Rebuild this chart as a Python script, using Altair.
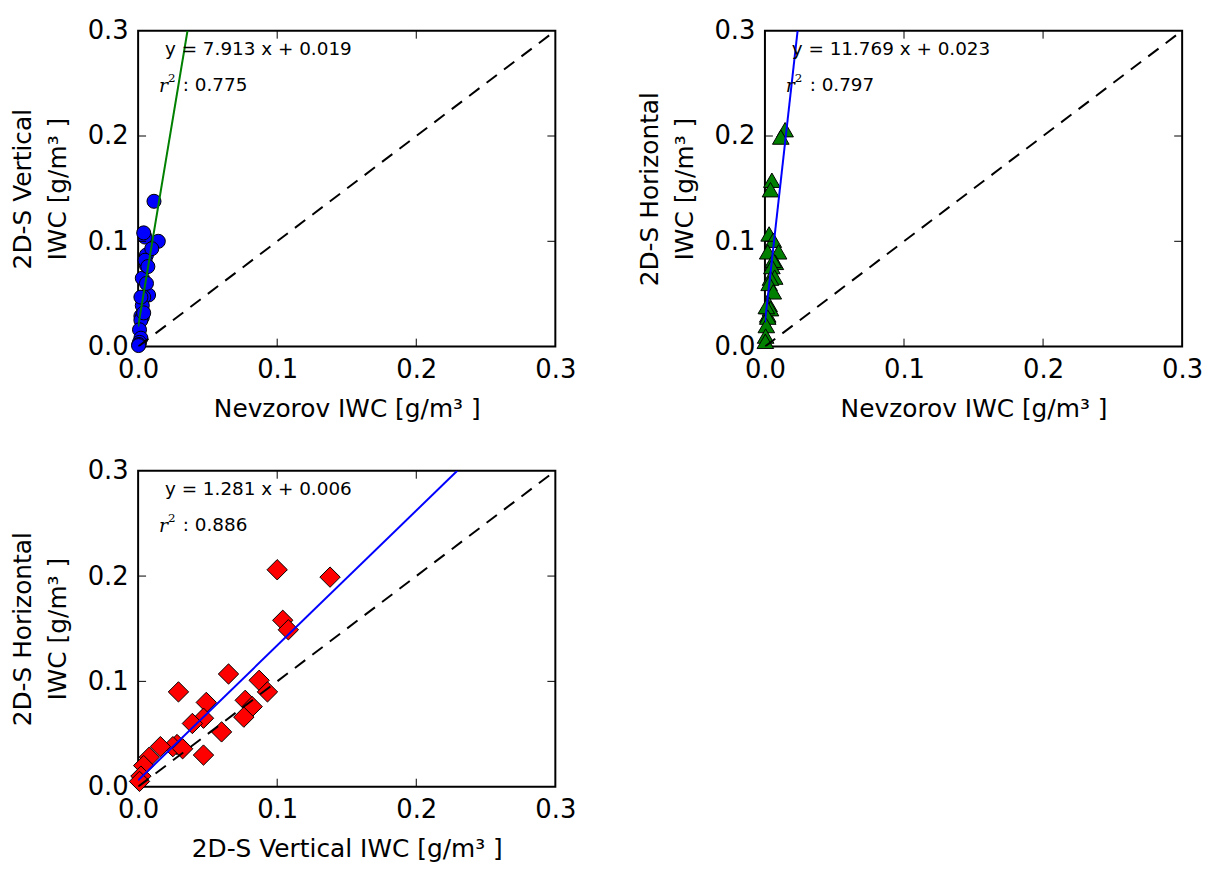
import altair as alt
import pandas as pd

# ---- data ----
nevzorov = [0.0145, 0.0114, 0.005, 0.004, 0.003, 0.006, 0.0098, 0.002, 0.0075, 0.006,
            0.005, 0.007, 0.004, 0.003, 0.006, 0.002, 0.003, 0.002, 0.004, 0.001,
            0.002, 0.001, 0.0005, 0.0003]
vertical = [0.100, 0.138, 0.104, 0.108, 0.065, 0.087, 0.093, 0.029, 0.049, 0.077,
            0.082, 0.076, 0.047, 0.039, 0.060, 0.047, 0.028, 0.025, 0.032, 0.016,
            0.008, 0.004, 0.002, 0.001]
horizontal = [0.206, 0.199, 0.158, 0.149, 0.107, 0.101, 0.090, 0.090, 0.080, 0.082,
              0.076, 0.066, 0.065, 0.060, 0.052, 0.030, 0.040, 0.038, 0.036, 0.038,
              0.028, 0.020, 0.010, 0.005]

one_to_one = [0.0, 0.3]
fit1_x = [0.0, 0.0355]
fit1_y = [0.019, 0.300]
fit2_x = [0.0, 0.0235]
fit2_y = [0.023, 0.300]
fit3_x = [0.0, 0.2295]
fit3_y = [0.006, 0.300]
tick_values = [0.1, 0.2]
axis_ticks = [0.0, 0.1, 0.2, 0.3]

eq_texts = ["y = 7.913 x + 0.019", "y = 11.769 x + 0.023", "y = 1.281 x + 0.006"]
r2_texts = [": 0.775", ": 0.797", ": 0.886"]

W, H = 420, 318
DOM = [0.0, 0.3]

df = pd.DataFrame({"nev": nevzorov, "vert": vertical, "horiz": horizontal})
ticks_df = pd.DataFrame({"v": tick_values})
diag_df = pd.DataFrame({"a": one_to_one, "b": one_to_one})


def panel(xf, yf, xtitle, ytitle, shape, color, size, fx, fy, fcolor, eq, r2):
    def X(field):
        return alt.X(f"{field}:Q", scale=alt.Scale(domain=DOM, nice=False),
                     axis=alt.Axis(title=xtitle, values=axis_ticks, format=".1f"))

    def Y(field):
        return alt.Y(f"{field}:Q", scale=alt.Scale(domain=DOM, nice=False),
                     axis=alt.Axis(title=ytitle, values=axis_ticks, format=".1f"))

    pts = alt.Chart(df).mark_point(
        shape=shape, filled=True, fill=color, stroke="black", strokeWidth=1,
        size=size, opacity=1
    ).encode(x=X(xf), y=Y(yf))

    diag = alt.Chart(diag_df).mark_line(
        color="black", strokeWidth=2, strokeDash=[13, 9], clip=True
    ).encode(x=X("a"), y=Y("b"))

    fit_df = pd.DataFrame({"fx": fx, "fy": fy})
    fit = alt.Chart(fit_df).mark_line(color=fcolor, strokeWidth=2, clip=True).encode(
        x=X("fx"), y=Y("fy"))

    tb = alt.Chart(ticks_df).mark_rule(color="black", strokeWidth=1).encode(
        x=X("v"), y=alt.value(H), y2=alt.value(H - 8))
    tt = alt.Chart(ticks_df).mark_rule(color="black", strokeWidth=1).encode(
        x=X("v"), y=alt.value(0), y2=alt.value(8))
    tl = alt.Chart(ticks_df).mark_rule(color="black", strokeWidth=1).encode(
        y=Y("v"), x=alt.value(0), x2=alt.value(8))
    tr = alt.Chart(ticks_df).mark_rule(color="black", strokeWidth=1).encode(
        y=Y("v"), x=alt.value(W), x2=alt.value(W - 8))

    eq_t = alt.Chart(pd.DataFrame({"t": [eq]})).mark_text(
        align="left", baseline="middle", fontSize=18.5, font="DejaVu Sans", color="black"
    ).encode(text="t:N", x=alt.value(27), y=alt.value(18))

    r_t = alt.Chart(pd.DataFrame({"t": ["r"]})).mark_text(
        align="left", baseline="middle", fontSize=19, font="DejaVu Serif",
        fontStyle="italic", color="black"
    ).encode(text="t:N", x=alt.value(21), y=alt.value(56))
    s_t = alt.Chart(pd.DataFrame({"t": ["2"]})).mark_text(
        align="left", baseline="middle", fontSize=12, font="DejaVu Serif", color="black"
    ).encode(text="t:N", x=alt.value(30), y=alt.value(48))
    r2_t = alt.Chart(pd.DataFrame({"t": [r2]})).mark_text(
        align="left", baseline="middle", fontSize=18.5, font="DejaVu Sans", color="black"
    ).encode(text="t:N", x=alt.value(45), y=alt.value(55))

    return alt.layer(pts, diag, fit, tb, tt, tl, tr, eq_t, r_t, s_t, r2_t).properties(
        width=W, height=H)


p1 = panel("nev", "vert", "Nevzorov IWC [g/m³ ]", ["2D-S Vertical", "IWC  [g/m³ ]"],
           "circle", "#0000ff", 200, fit1_x, fit1_y, "#008000", eq_texts[0], r2_texts[0])
p2 = panel("nev", "horiz", "Nevzorov IWC [g/m³ ]", ["2D-S Horizontal", "IWC  [g/m³ ]"],
           "triangle-up", "#008000", 280, fit2_x, fit2_y, "#0000ff", eq_texts[1], r2_texts[1])
p3 = panel("vert", "horiz", "2D-S Vertical IWC [g/m³ ]", ["2D-S Horizontal", "IWC  [g/m³ ]"],
           "diamond", "#ff0000", 420, fit3_x, fit3_y, "#0000ff", eq_texts[2], r2_texts[2])

top = alt.hconcat(p1, p2, spacing=59)
chart = alt.vconcat(top, p3, spacing=35).configure(
    background="white", padding={"left": 1, "top": 6, "right": 0, "bottom": 0}
).configure_view(
    stroke="black", strokeWidth=2
).configure_axis(
    grid=False, domain=False, ticks=False,
    labelFont="DejaVu Sans", labelFontSize=26, labelColor="black",
    titleFont="DejaVu Sans", titleFontSize=25, titleFontWeight="normal", titleColor="black",
    labelFlush=False, labelOverlap=False
).configure_axisX(
    labelPadding=10, titlePadding=14
).configure_axisY(
    labelPadding=10, titlePadding=17, titleLineHeight=35
)

chart.save("out.html", embed_options={"renderer": "svg", "actions": False})
